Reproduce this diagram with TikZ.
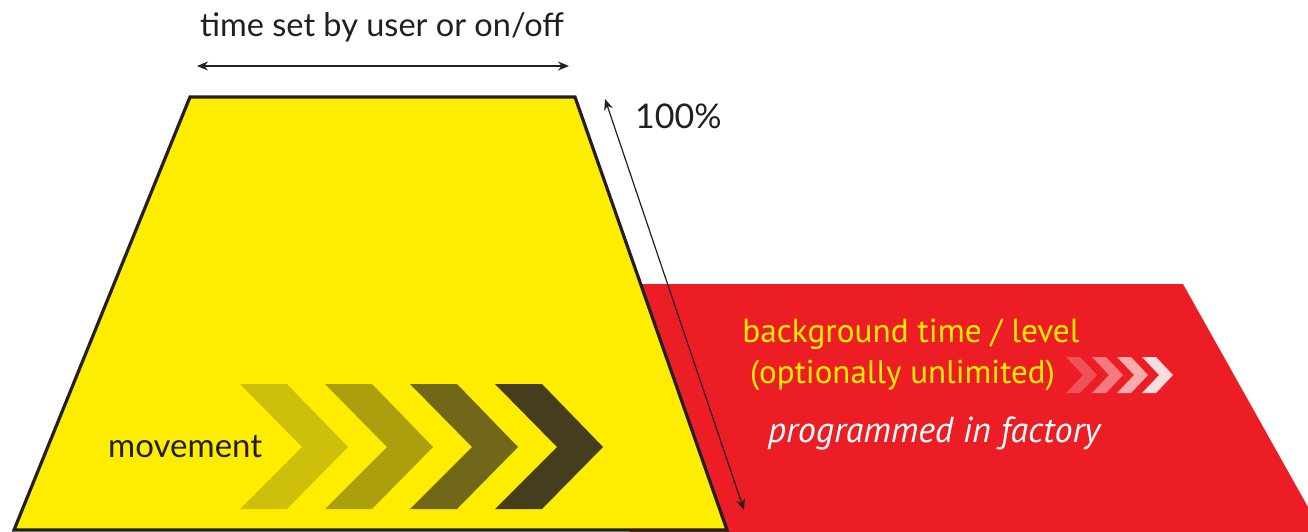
\documentclass[tikz,border=0pt]{standalone}
\usepackage{fontspec}
\setmainfont{Lato}
\newfontfamily\ptsans{PT Sans}
\usetikzlibrary{arrows.meta}
\definecolor{ylw}{RGB}{255,237,0}
\definecolor{rd}{RGB}{237,29,37}
\definecolor{ink}{RGB}{35,31,32}
\definecolor{cA}{RGB}{206,192,10}
\definecolor{cB}{RGB}{172,159,13}
\definecolor{cC}{RGB}{112,104,24}
\definecolor{cD}{RGB}{68,62,30}
\definecolor{sA}{RGB}{240,80,90}
\definecolor{sB}{RGB}{244,122,128}
\definecolor{sC}{RGB}{248,172,174}
\definecolor{sD}{RGB}{252,220,220}
\tikzset{
  bigchev/.pic={\fill (0,0) -- (47,0) -- (108,63) -- (47,125) -- (0,125) -- (62,63) -- cycle;},
  smallchev/.pic={\fill (0,0) -- (14,0) -- (31,18) -- (14,36) -- (0,36) -- (17,18) -- cycle;},
  dimarrow/.style={ink, line width=1.4pt, {Stealth[length=11pt,width=9pt]}-{Stealth[length=11pt,width=9pt]}},
  darklabel/.style={text=ink, inner sep=0pt},
  redlabel/.style={text=ylw, inner sep=0pt, align=center},
}
\begin{document}
\begin{tikzpicture}[x=1pt,y=-1pt]
\useasboundingbox (0,0) rectangle (1308,532);
\begin{scope}
\clip (0,0) rectangle (1308,532);
% red background band
\fill[rd] (630,284) -- (1183,284) -- (1322,532) -- (630,532) -- cycle;
\end{scope}
% yellow trapezoid
\filldraw[fill=ylw, draw=ink, line width=3.2pt, line join=miter]
  (190,97) -- (575,97) -- (727,530) -- (14,530) -- cycle;
% big chevrons
\pic[cA] at (240,384) {bigchev};
\pic[cB] at (325,384) {bigchev};
\pic[cC] at (410,384) {bigchev};
\pic[cD] at (495,384) {bigchev};
% small chevrons
\pic[sA] at (1066,357) {smallchev};
\pic[sB] at (1092,357) {smallchev};
\pic[sC] at (1117,357) {smallchev};
\pic[sD] at (1142,357) {smallchev};
% dimension arrows
\coordinate (tl) at (197,66);
\coordinate (tr) at (569,66);
\draw[dimarrow] (tl) -- (tr);
\coordinate (dtop) at (605,99);
\coordinate (dbot) at (744,510);
\draw[dimarrow, line width=1.2pt] (dtop) -- (dbot);
% labels
\node[darklabel, font=\fontsize{32.5}{38}\selectfont] (ttime) at (382,27) {time set by user or on/off};
\node[darklabel, font=\fontsize{34}{40}\selectfont, anchor=west] (tpct) at (635,116) {100\%};
\node[darklabel, font=\fontsize{33}{38}\selectfont, anchor=west] (tmove) at (108,447) {movement};
\node[redlabel, font=\ptsans\fontsize{33.3}{38}\selectfont] (tbg) at (911,334) {background time / level};
\node[redlabel, font=\ptsans\fontsize{33}{38}\selectfont] (topt) at (902.5,375) {(optionally unlimited)};
\node[text=white, font=\ptsans\itshape\fontsize{36}{40}\selectfont, inner sep=0pt] (tprog) at (934,433) {programmed in factory};
\end{tikzpicture}
\end{document}
